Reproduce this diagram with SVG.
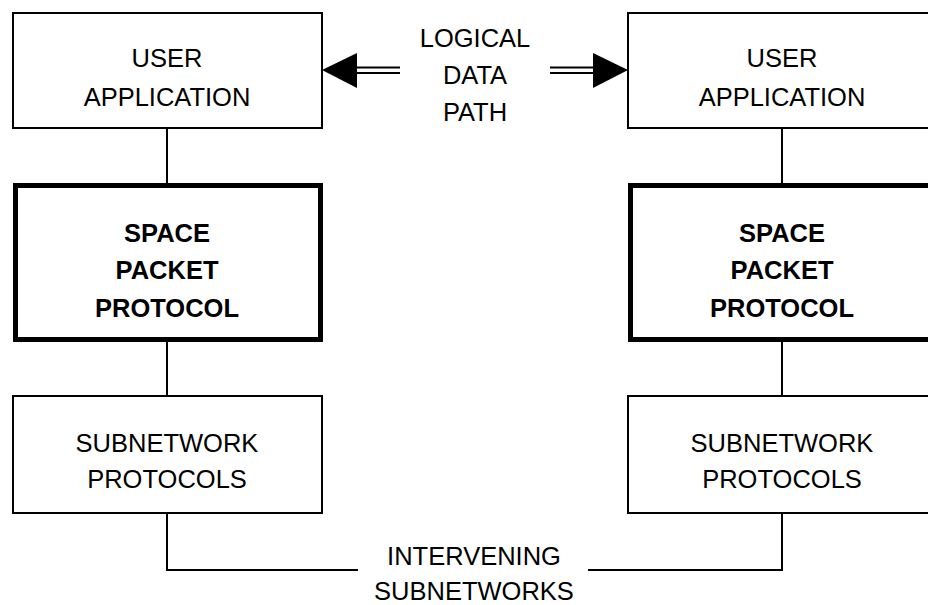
<svg xmlns="http://www.w3.org/2000/svg" width="928" height="605" viewBox="0 0 928 605">
<style>
.box{fill:#fff;stroke:#000;stroke-width:2}
.bold{fill:#fff;stroke:#000;stroke-width:5}
.t{font-family:"Liberation Sans",Arial,sans-serif;font-size:25.5px;text-anchor:middle;fill:#000}
.tb{font-family:"Liberation Sans",Arial,sans-serif;font-size:25.5px;font-weight:bold;text-anchor:middle;fill:#000}
.ln{stroke:#000;stroke-width:2;fill:none}
</style>
<rect width="928" height="605" fill="#fff"/>
<g id="connectors">
<line class="ln" x1="167" y1="128" x2="167" y2="185"/>
<line class="ln" x1="167" y1="340" x2="167" y2="397"/>
<line class="ln" x1="782" y1="128" x2="782" y2="185"/>
<line class="ln" x1="782" y1="340" x2="782" y2="397"/>
<polyline class="ln" points="167,513 167,570 358,570"/>
<polyline class="ln" points="588,570 782,570 782,513"/>
<line class="ln" x1="357" y1="67.5" x2="400" y2="67.5"/>
<line class="ln" x1="357" y1="73" x2="400" y2="73"/>
<polygon points="322,70 357,53 357,88" fill="#000"/>
<line class="ln" x1="550" y1="67.5" x2="594" y2="67.5"/>
<line class="ln" x1="550" y1="73" x2="594" y2="73"/>
<polygon points="628,70 593,53 593,88" fill="#000"/>
</g>
<g id="label-logical">
<text class="t" x="475" y="47">LOGICAL</text>
<text class="t" x="475" y="84">DATA</text>
<text class="t" x="475" y="121">PATH</text>
</g>
<g id="label-intervening">
<text class="t" x="474" y="565">INTERVENING</text>
<text class="t" x="474" y="600">SUBNETWORKS</text>
</g>
<g id="user-app-left">
<rect class="box" x="13" y="13" width="309" height="115"/>
<text class="t" x="167" y="67">USER</text>
<text class="t" x="167" y="106">APPLICATION</text>
</g>
<g id="spp-left">
<rect class="bold" x="15.5" y="185.5" width="305" height="154"/>
<text class="tb" x="167" y="242">SPACE</text>
<text class="tb" x="167" y="279">PACKET</text>
<text class="tb" x="167" y="317">PROTOCOL</text>
</g>
<g id="subnet-left">
<rect class="box" x="13" y="396" width="309" height="117"/>
<text class="t" x="167" y="452">SUBNETWORK</text>
<text class="t" x="167" y="488">PROTOCOLS</text>
</g>
<g id="user-app-right">
<rect class="box" x="628" y="13" width="309" height="115"/>
<text class="t" x="782" y="67">USER</text>
<text class="t" x="782" y="106">APPLICATION</text>
</g>
<g id="spp-right">
<rect class="bold" x="630.5" y="185.5" width="305" height="154"/>
<text class="tb" x="782" y="242">SPACE</text>
<text class="tb" x="782" y="279">PACKET</text>
<text class="tb" x="782" y="317">PROTOCOL</text>
</g>
<g id="subnet-right">
<rect class="box" x="628" y="396" width="309" height="117"/>
<text class="t" x="782" y="452">SUBNETWORK</text>
<text class="t" x="782" y="488">PROTOCOLS</text>
</g>
</svg>
